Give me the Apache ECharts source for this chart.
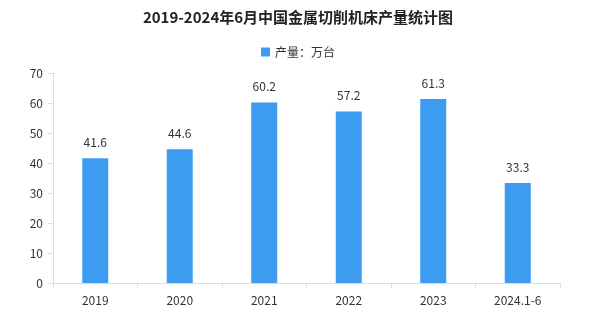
<!DOCTYPE html>
<html><head><meta charset="utf-8">
<script src="https://cdn.jsdelivr.net/npm/echarts@6/dist/echarts.min.js"></script>
<style>html,body{margin:0;padding:0;background:#fff}#c{width:596px;height:322px}</style>
</head><body><div id="c"></div>
<script>
const categories = ['2019','2020','2021','2022','2023','2024.1-6'];
const production = [41.6, 44.6, 60.2, 57.2, 61.3, 33.3];
const seriesName = '产量：万台';
const titleText = '2019-2024年6月中国金属切削机床产量统计图';
const font = '"Noto Sans CJK SC", sans-serif';
const chart = echarts.init(document.getElementById('c'));
chart.setOption({
  animation:false,
  title:{text:titleText,left:'center',top:5,textStyle:{fontFamily:font,fontSize:15,fontWeight:'bold',color:'#222'}},
  legend:{top:41,left:'center',itemWidth:9,itemHeight:9,icon:'rect',textStyle:{fontFamily:font,fontSize:12,color:'#333'},data:[seriesName]},
  grid:{left:53,right:36,top:73,bottom:39},
  xAxis:{type:'category',data:categories,axisLine:{lineStyle:{color:'#ddd'}},axisTick:{show:true,lineStyle:{color:'#ddd'}},axisLabel:{fontFamily:font,fontSize:12,color:'#333',margin:11}},
  yAxis:{type:'value',min:0,max:70,interval:10,axisLine:{show:true,lineStyle:{color:'#ddd'}},axisTick:{show:true,lineStyle:{color:'#ddd'}},splitLine:{show:false},axisLabel:{fontFamily:font,fontSize:12,color:'#333',margin:10}},
  series:[{name:seriesName,type:'bar',data:production,barWidth:26,itemStyle:{color:'#3d9cf0'},label:{show:true,position:'top',distance:10,fontFamily:font,fontSize:12,color:'#333'}}]
});
</script></body></html>
